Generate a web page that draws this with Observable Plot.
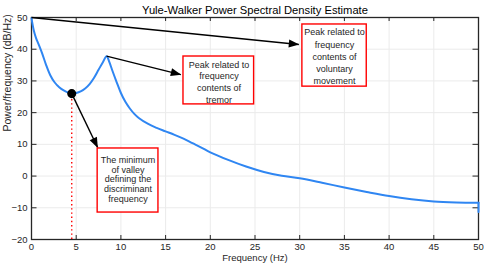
<!DOCTYPE html>
<html>
<head>
<meta charset="utf-8">
<script src="https://cdn.jsdelivr.net/npm/d3@7"></script>
<script src="https://cdn.jsdelivr.net/npm/@observablehq/plot@0.6"></script>
<style>
  html, body { margin: 0; padding: 0; background: #ffffff; }
  #chart svg { display: block; }
</style>
</head>
<body>
<div id="chart"></div>
<script>
// ---- data ----
const freq = [0, 0.25, 0.5, 0.8, 1.2, 1.6, 2.1, 2.6, 3.1, 3.6, 4.1, 4.5, 5.0, 5.5, 6.0, 6.5, 7.0, 7.5, 8.0, 8.4,
  8.7, 9.0, 9.5, 10.0, 10.5, 11.0, 11.5, 12.0, 13.0, 14.0, 15.0, 16.0, 17.0, 18.0, 19.0, 20.0, 22.0, 24.0, 26.0,
  28.0, 30.0, 32.5, 35.0, 37.5, 40.0, 42.5, 45.0, 47.5, 50.0, 50.0];
const psd = [49.8, 46.0, 43.6, 41.5, 38.6, 35.3, 31.8, 29.5, 28.0, 27.0, 26.3, 26.0, 26.2, 26.7, 27.6, 29.0, 31.0, 33.5, 36.0, 37.8,
  36.0, 33.6, 29.8, 26.2, 23.4, 21.3, 19.6, 18.3, 16.5, 15.2, 14.1, 13.0, 11.8, 10.4, 9.0, 7.5, 5.1, 3.0, 1.3,
  0.1, -0.7, -2.1, -3.6, -5.0, -6.3, -7.3, -8.0, -8.3, -8.4, -11.3];
const xTicks = [0, 5, 10, 15, 20, 25, 30, 35, 40, 45, 50];
const yTicks = [-20, -10, 0, 10, 20, 30, 40, 50];

const titleText = "Yule-Walker Power Spectral Density Estimate";
const xLabel = "Frequency (Hz)";
const yLabel = "Power/frequency (dB/Hz)";

// annotation: valley marker
const valleyFreq = [4.5];
const valleyPsd = [26.0];

// annotation arrows (from -> to, in data units)
const arrowX1 = [0, 8.4, 4.5];
const arrowY1 = [50, 37.8, 26.0];
const arrowX2 = [29.9, 16.7, 7.4];
const arrowY2 = [41.5, 32.0, 9.0];

// annotation boxes (data units) and their texts
const boxX1 = [30.3, 17.0, 7.4];
const boxX2 = [37.5, 24.9, 14.2];
const boxY1 = [28.2, 22.6, -11.5];
const boxY2 = [47.8, 37.7, 8.7];
const boxTextX = [33.9, 20.97, 10.79];
const boxTextY = [37.95, 29.85, -1.02];
const boxText = [
  "Peak related to\nfrequency\ncontents of\nvoluntary\nmovement",
  "Peak related to\nfrequency\ncontents of\ntremor",
  "The minimum\nof valley\ndefining the\ndiscriminant\nfrequency"
];
const boxLineHeight = [1.34, 1.3, 1.09];

// ---- build tables ----
const curve = freq.map((f, i) => ({f, p: psd[i]}));
const curveSmooth = curve.slice(0, -1);   // smooth spectrum
const curveEnd = curve.slice(-2);          // final drop at the Nyquist frequency
const valley = valleyFreq.map((f, i) => ({f, p: valleyPsd[i]}));
const arrows = arrowX1.map((x, i) => ({x1: x, y1: arrowY1[i], x2: arrowX2[i], y2: arrowY2[i]}));
const boxes = boxX1.map((x, i) => ({x1: x, x2: boxX2[i], y1: boxY1[i], y2: boxY2[i],
  tx: boxTextX[i], ty: boxTextY[i], text: boxText[i], lh: boxLineHeight[i]}));

const W = 485, H = 266, mL = 31, mR = 7, mT = 17, mB = 27;
const innerW = W - mL - mR, innerH = H - mT - mB;
const axisColor = "#262626";
const blue = "#2f86f2";

function filledArrow(color) {
  const m = d3.create("svg:marker")
    .attr("viewBox", "-10 -4.5 11 9")
    .attr("markerWidth", 11).attr("markerHeight", 9)
    .attr("markerUnits", "userSpaceOnUse")
    .attr("orient", "auto")
    .attr("overflow", "visible");
  m.append("path").attr("fill", color).attr("stroke", "none").attr("d", "M-10,-4L0.5,0L-10,4Z");
  return m.node();
}

const chart = Plot.plot({
  width: W, height: H,
  marginLeft: mL, marginRight: mR, marginTop: mT, marginBottom: mB,
  style: {fontFamily: "'Liberation Sans', Arial, sans-serif", fontSize: "9.5px", color: axisColor, background: "#ffffff"},
  x: {domain: [0, 50]},
  y: {domain: [-20, 50]},
  marks: [
    Plot.gridX(xTicks, {stroke: "#ebebeb", strokeOpacity: 1}),
    Plot.gridY(yTicks, {stroke: "#ebebeb", strokeOpacity: 1}),
    Plot.axisX(xTicks, {tickSize: 0, tickPadding: 3.5, label: null, fontSize: 9.5}),
    Plot.axisY(yTicks, {tickSize: 0, tickPadding: 4, label: null, fontSize: 9.5}),
    // inward ticks on all four sides
    Plot.ruleX(xTicks, {stroke: axisColor, insetTop: innerH - 4}),
    Plot.ruleX(xTicks, {stroke: axisColor, insetBottom: innerH - 4}),
    Plot.ruleY(yTicks, {stroke: axisColor, insetRight: innerW - 5.5}),
    Plot.ruleY(yTicks, {stroke: axisColor, insetLeft: innerW - 5.5}),
    Plot.frame({stroke: axisColor, strokeWidth: 1.3}),
    // red dotted valley line
    Plot.ruleX(valley, {x: "f", y1: -20, y2: "p", stroke: "#ff0000", strokeWidth: 1.4, strokeDasharray: "1.4,2.8"}),
    // PSD curve
    Plot.line(curveSmooth, {x: "f", y: "p", stroke: blue, strokeWidth: 2, curve: "catmull-rom"}),
    Plot.line(curveEnd, {x: "f", y: "p", stroke: blue, strokeWidth: 2}),
    // arrows
    Plot.link(arrows, {x1: "x1", y1: "y1", x2: "x2", y2: "y2", stroke: "#000000", strokeWidth: 1.4, markerEnd: filledArrow}),
    Plot.dot(valley, {x: "f", y: "p", r: 3.8, fill: "#000000", stroke: "#000000"}),
    // annotation boxes
    Plot.rect(boxes, {x1: "x1", x2: "x2", y1: "y1", y2: "y2", fill: "#ffffff", stroke: "#ff0000", strokeWidth: 1.4}),
    ...boxes.map(b => Plot.text([b], {x: "tx", y: "ty", text: "text", fontSize: 9, fill: "#262626", lineHeight: b.lh, textAnchor: "middle"})),
    // title and axis labels
    Plot.text([titleText], {frameAnchor: "top", dy: -11, fontSize: 11.2, fill: "#000000"}),
    Plot.text([xLabel], {frameAnchor: "bottom", dy: 21.5, fontSize: 9.5, fill: axisColor}),
    Plot.text([yLabel], {frameAnchor: "left", dx: -24, dy: 3, rotate: -90, fontSize: 10.5, fill: axisColor})
  ]
});

document.getElementById("chart").appendChild(chart);
</script>
</body>
</html>
